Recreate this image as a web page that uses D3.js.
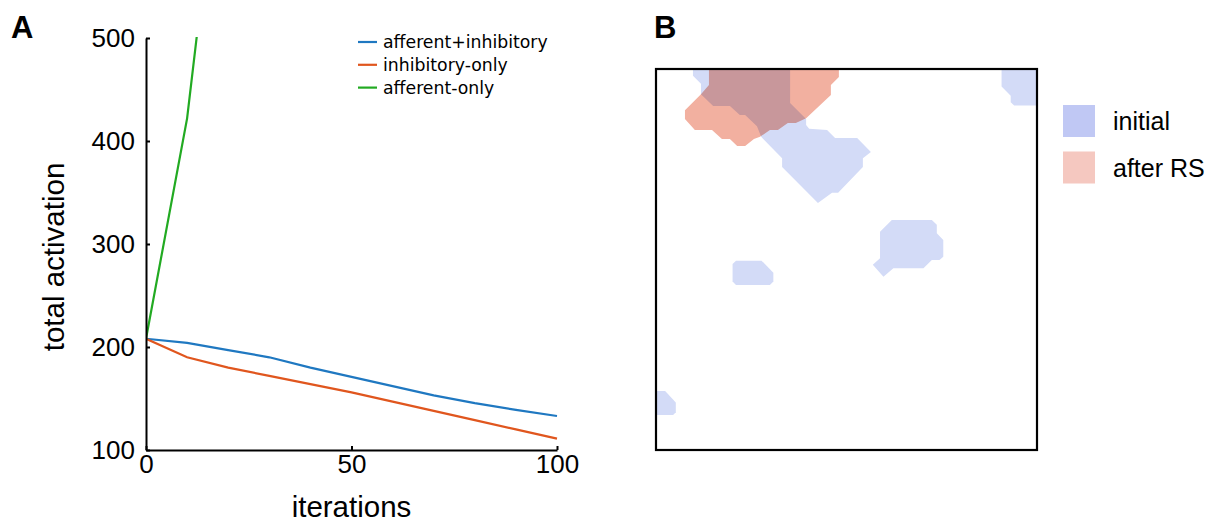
<!DOCTYPE html>
<html>
<head>
<meta charset="utf-8">
<script src="https://cdn.jsdelivr.net/npm/d3@7"></script>
<style>
  body { margin: 0; background: #fff; }
  text { font-family: "Liberation Sans", Arial, sans-serif; fill: #000; }
  .axis path, .axis line { stroke: #000; stroke-width: 2; }
  .axis text { font-size: 26px; font-family: "Liberation Sans", Arial, sans-serif; }
  .legA { font-family: "DejaVu Sans", sans-serif; font-size: 17.3px; }
</style>
</head>
<body>
<div id="chart"></div>
<script>

// panel A data
var iterations = [0, 10, 20, 30, 40, 50, 60, 70, 80, 90, 100];
var afferentInhibitory = [208, 204, 197, 190, 180, 171, 162, 153, 145.5, 139, 133];
var inhibitoryOnly = [208, 190, 180, 172, 164, 156, 147, 138, 129, 120, 111];
var afferentOnlyIter = [0, 10, 20];
var afferentOnly = [208, 422, 760];
var seriesNames = ["afferent+inhibitory", "inhibitory-only", "afferent-only"];
var seriesColors = ["#1f78c1", "#e0561e", "#22aa22"];
var yTicks = [100, 200, 300, 400, 500];
var xTicks = [0, 50, 100];

// panel B regions, in map units (0-100, y down)
var initialRegions = [
  [[9.7,0],[35.2,0],[35.2,8.9],[39.4,13.1],[39.4,14.7],[40.2,15.7],[44.9,16.0],[47.0,18.1],[52.8,18.1],
   [56.4,21.8],[54.3,23.4],[54.3,25.7],[47.8,32.5],[46.2,32.5],[42.5,35.2],[33.1,25.7],[33.1,23.4],
   [27.6,17.8],[26.5,15.0],[23.4,12.1],[22.0,12.1],[19.4,9.7],[15.0,9.7],[11.8,6.6],[11.8,3.9],[9.7,1.8]],
  [[61.9,39.6],[72.4,39.6],[73.7,40.9],[73.7,43.1],[75.4,44.9],[75.4,49.3],[74.4,50.1],[72.4,50.1],
   [70.2,52.3],[62.3,52.3],[59.7,54.5],[56.9,51.4],[58.8,49.7],[58.8,42.7]],
  [[21.0,50.3],[27.7,50.3],[30.8,53.5],[30.8,55.8],[29.9,56.7],[21.0,56.7],[20.1,55.8],[20.1,51.2]],
  [[90.7,0],[100,0],[100,9.6],[94.0,9.6],[93.1,8.7],[93.1,7.0],[90.7,4.6]],
  [[0,84.5],[2.4,84.5],[5.2,87.5],[5.2,90.1],[4.5,90.8],[0,90.8]]
];
var afterRSRegions = [
  [[13.9,0],[48.0,0],[48.0,2.1],[45.9,4.2],[45.9,6.8],[39.4,12.9],[36.7,14.2],[34.6,14.2],[32.0,16.0],
   [29.9,16.0],[27.3,17.8],[25.7,18.4],[23.4,20.2],[21.3,20.2],[19.4,18.4],[17.3,18.4],[14.7,16.0],
   [10.2,16.0],[7.6,13.1],[7.6,10.8],[11.8,6.6],[13.9,4.2]]
];
var legendB = ["initial", "after RS"];
var legendBColors = ["#c0c8f4", "#f5c8c0"];


var svg = d3.select("#chart")
            .append("svg")
            .attr("width", 1225)
            .attr("height", 523);


//---------------- panel A ----------------
var x = d3.scaleLinear().domain([0, 100]).range([146, 557]);
var y = d3.scaleLinear().domain([100, 500]).range([450, 38]);

svg.append("defs").append("clipPath")
    .attr("id", "clipA")
    .append("rect")
    .attr("x", x(0))
    .attr("y", y(500) - 1)
    .attr("width", x(100) - x(0) + 2)
    .attr("height", y(100) - y(500) + 1);

var line = d3.line()
    .x(function(d) { return x(d[0]); })
    .y(function(d) { return y(d[1]); });

var series = [
  d3.zip(iterations, afferentInhibitory),
  d3.zip(iterations, inhibitoryOnly),
  d3.zip(afferentOnlyIter, afferentOnly)
];

svg.append("g")
    .attr("clip-path", "url(#clipA)")
    .selectAll("path")
    .data(series)
    .enter()
    .append("path")
    .attr("d", line)
    .attr("fill", "none")
    .attr("stroke", function(d, i) { return seriesColors[i]; })
    .attr("stroke-width", 2.2);

//y axis
svg.append("g")
    .attr("class", "axis")
    .attr("transform", "translate(" + x(0) + ",0)")
    .call(d3.axisLeft(y)
            .tickValues(yTicks)
            .tickSizeInner(-4)
            .tickSizeOuter(0)
            .tickPadding(11));

//x axis
svg.append("g")
    .attr("class", "axis")
    .attr("transform", "translate(0," + y(100) + ")")
    .call(d3.axisBottom(x)
            .tickValues(xTicks)
            .tickSizeInner(-4)
            .tickSizeOuter(0)
            .tickPadding(5));

//axis labels
svg.append("text")
    .attr("x", (x(0) + x(100)) / 2)
    .attr("y", 517)
    .style("text-anchor", "middle")
    .style("font-size", "29.5px")
    .text("iterations");

svg.append("text")
    .attr("transform", "rotate(-90)")
    .attr("x", -257)
    .attr("y", 64)
    .style("text-anchor", "middle")
    .style("font-size", "29.5px")
    .text("total activation");

//legend
var legA = svg.append("g")
    .selectAll("g")
    .data(seriesNames)
    .enter()
    .append("g")
    .attr("transform", function(d, i) { return "translate(358," + (42 + i * 22.8) + ")"; });

legA.append("line")
    .attr("x1", 0).attr("x2", 19)
    .attr("stroke", function(d, i) { return seriesColors[i]; })
    .attr("stroke-width", 2.2);

legA.append("text")
    .attr("class", "legA")
    .attr("x", 25)
    .attr("y", 6)
    .text(function(d) { return d; });

//panel letter
svg.append("text")
    .attr("x", 11).attr("y", 38)
    .style("font-size", "31px")
    .style("font-weight", "bold")
    .text("A");


//---------------- panel B ----------------
var bx = d3.scaleLinear().domain([0, 100]).range([656, 1037]);
var by = d3.scaleLinear().domain([0, 100]).range([69, 450]);

svg.select("defs").append("clipPath")
    .attr("id", "clipB")
    .append("rect")
    .attr("x", bx(0)).attr("y", by(0))
    .attr("width", bx(100) - bx(0))
    .attr("height", by(100) - by(0));

var region = d3.line()
    .x(function(d) { return bx(d[0]); })
    .y(function(d) { return by(d[1]); })
    .curve(d3.curveLinearClosed);

var mapG = svg.append("g")
    .attr("clip-path", "url(#clipB)")
    .style("isolation", "isolate");

mapG.selectAll("path.initial")
    .data(initialRegions)
    .enter()
    .append("path")
    .attr("class", "initial")
    .attr("d", region)
    .attr("fill", "#d3dbf7");

mapG.selectAll("path.after")
    .data(afterRSRegions)
    .enter()
    .append("path")
    .attr("class", "after")
    .attr("d", region)
    .attr("fill", "#f2b0a0")
    .style("mix-blend-mode", "multiply");

svg.append("rect")
    .attr("x", bx(0)).attr("y", by(0))
    .attr("width", bx(100) - bx(0))
    .attr("height", by(100) - by(0))
    .attr("fill", "none")
    .attr("stroke", "#000")
    .attr("stroke-width", 2.2);

//legend
var legB = svg.append("g")
    .selectAll("g")
    .data(legendB)
    .enter()
    .append("g")
    .attr("transform", function(d, i) { return "translate(1063," + (105 + i * 46.5) + ")"; });

legB.append("rect")
    .attr("width", 32)
    .attr("height", 32)
    .attr("fill", function(d, i) { return legendBColors[i]; });

legB.append("text")
    .attr("x", 50)
    .attr("y", 25)
    .style("font-size", "25px")
    .text(function(d) { return d; });

svg.append("text")
    .attr("x", 654).attr("y", 38)
    .style("font-size", "31px")
    .style("font-weight", "bold")
    .text("B");

</script>
</body>
</html>
